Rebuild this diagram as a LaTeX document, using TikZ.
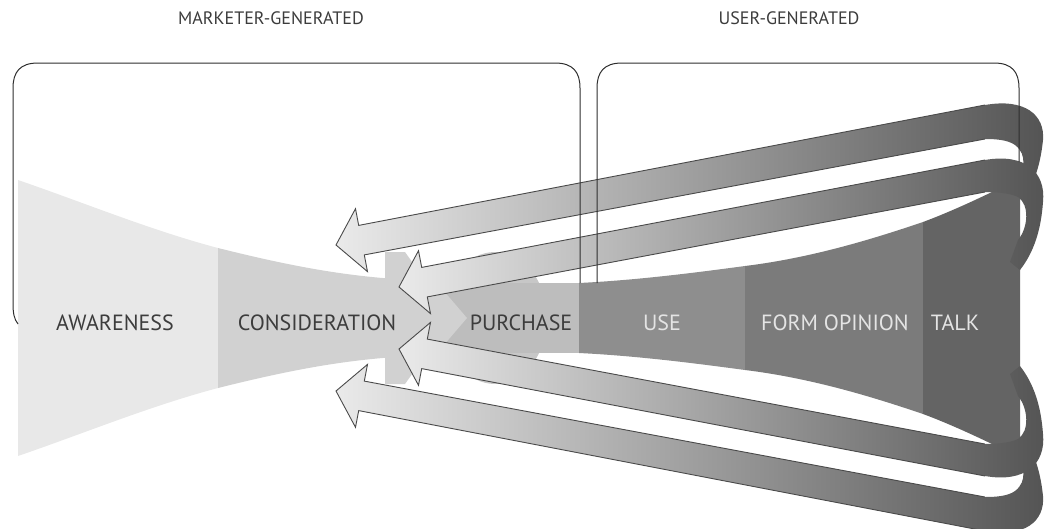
\documentclass[tikz,border=0pt]{standalone}
\usepackage{fontspec}
\setmainfont{PT Sans}
\definecolor{awc}{HTML}{E8E8E8}
\definecolor{coc}{HTML}{D1D1D1}
\definecolor{puc}{HTML}{BDBDBD}
\definecolor{blc}{HTML}{C7C7C7}
\definecolor{usc}{HTML}{8E8E8E}
\definecolor{foc}{HTML}{7B7B7B}
\definecolor{tac}{HTML}{646464}
\definecolor{dtxt}{HTML}{3C3C3C}
\definecolor{ltxt}{HTML}{E4E4E4}
\definecolor{arl}{HTML}{EAEAEA}
\definecolor{ard}{HTML}{545454}
\definecolor{aro}{HTML}{4A4A4A}
\definecolor{boxc}{HTML}{2E2E2E}
\begin{document}
\begin{tikzpicture}[x=1pt,y=-1pt,
  lab/.style={font=\fontsize{22}{25}\selectfont, inner sep=0pt, anchor=center},
  head/.style={font=\fontsize{18}{21}\selectfont, inner sep=0pt, anchor=center, text=dtxt},
  band/.style={left color=arl, right color=ard},
  bandline/.style={draw=aro, line width=0.9pt, line join=miter},
  boxline/.style={draw=boxc, line width=1pt}]
\useasboundingbox (0,0) rectangle (1045,528);
% ---------- funnel (left part) ----------
\fill[awc] (18,180) .. controls (85,203) and (150,230) .. (218,248) -- (218,388) .. controls (150,406) and (85,433) .. (18,456) -- cycle;
\fill[coc] (218,248) .. controls (290,266) and (340,275) .. (395,279) -- (395,357) .. controls (340,361) and (290,370) .. (218,388) -- cycle;
\fill[coc] (385,252) -- (405,252) -- (432,290) -- (432,346) -- (405,384) -- (385,384) -- cycle;
\fill[blc] (495,318) ellipse [x radius=52, y radius=66];
\fill[puc] (400,283) rectangle (579,353);
\fill[coc] (395,283) -- (437,283) -- (467,318) -- (437,353) -- (395,353) -- cycle;
% ---------- funnel (right part) ----------
\fill[usc] (579,283) .. controls (640,280) and (700,272) .. (745,266) -- (745,370) .. controls (700,364) and (640,356) .. (579,353) -- cycle;
\fill[foc] (745,266) .. controls (810,258) and (870,240) .. (923,222) -- (923,414) .. controls (870,396) and (810,378) .. (745,370) -- cycle;
\fill[tac] (923,222) .. controls (950,212) and (985,196) .. (1020,178) -- (1020,458) .. controls (985,440) and (950,424) .. (923,414) -- cycle;
% ---------- loop arrows ----------
\foreach \mir in {0,1}{
\begin{scope}[shift={(0,636*\mir)}, yscale={1-2*\mir}]
  % outer arrow
  \shade[band] (336,245) -- (355.5,208.7) -- (358.7,225.4) -- (985,105)
    .. controls (1025,98) and (1045,115) .. (1043,140)
    .. controls (1041,160) and (1036,178) .. (1028,192)
    -- (1016,186) .. controls (1024,170) and (1028,155) .. (1015,145)
    .. controls (1008,140) and (997,139) .. (985,139)
    -- (364.3,254.9) -- (367.5,271.6) -- cycle;
  \draw[bandline] (985,105) -- (358.7,225.4) -- (355.5,208.7) -- (336,245) -- (367.5,271.6) -- (364.3,254.9) -- (985,139);
\end{scope}}
\foreach \mir in {0,1}{
\begin{scope}[shift={(0,636*\mir)}, yscale={1-2*\mir}]
  % inner arrow
  \shade[band] (399,287) -- (418.5,250.7) -- (421.7,267.4) -- (985,160)
    .. controls (1025,153) and (1046,172) .. (1043,202)
    .. controls (1041,230) and (1034,252) .. (1020,270)
    -- (1010,262) -- (1018,240)
    .. controls (1028,228) and (1030,205) .. (1018,197)
    .. controls (1010,193) and (995,192) .. (985,192)
    -- (427.3,296.9) -- (430.5,313.6) -- cycle;
  \draw[bandline] (985,160) -- (421.7,267.4) -- (418.5,250.7) -- (399,287) -- (430.5,313.6) -- (427.3,296.9) -- (985,192);
\end{scope}}
% ---------- boxes ----------
\draw[boxline] (18,324) .. controls (14,319) and (13,313) .. (13,303) -- (13,88) .. controls (13,72) and (20,63) .. (38,63) -- (555,63) .. controls (573,63) and (580,72) .. (580,88) -- (580,283);
\draw[boxline] (597,283) -- (597,88) .. controls (597,72) and (604,63) .. (622,63) -- (994,63) .. controls (1012,63) and (1019,72) .. (1019,88) -- (1019,162);
% ---------- labels ----------
\node[head] (hm) at (271,18) {MARKETER-GENERATED};
\node[head] (hu) at (789,18) {USER-GENERATED};
\node[lab, text=dtxt] (aw) at (115,323) {AWARENESS};
\node[lab, text=dtxt] (co) at (317,323) {CONSIDERATION};
\node[lab, text=dtxt] (pu) at (521,323) {PURCHASE};
\node[lab, text=ltxt] (us) at (662,323) {USE};
\node[lab, text=ltxt] (fo) at (835,323) {FORM OPINION};
\node[lab, text=ltxt] (ta) at (955,323) {TALK};
\end{tikzpicture}
\end{document}
